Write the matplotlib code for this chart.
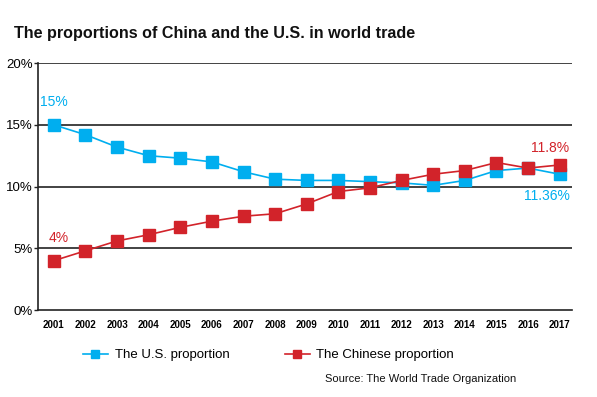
import matplotlib.pyplot as plt
from matplotlib.ticker import FuncFormatter

# Data
years = list(range(2001, 2018))
us_share = [15.0, 14.2, 13.2, 12.5, 12.3, 12.0, 11.2, 10.6, 10.5, 10.5,
            10.4, 10.3, 10.1, 10.5, 11.3, 11.5, 11.0]
china_share = [4.0, 4.8, 5.6, 6.1, 6.7, 7.2, 7.6, 7.8, 8.6, 9.6,
               9.9, 10.5, 11.0, 11.3, 11.95, 11.5, 11.75]

blue = '#00AEEF'
red = '#D2232A'

plt.rcParams['font.family'] = ['Liberation Sans', 'DejaVu Sans']

fig = plt.figure(figsize=(5.97, 3.97), dpi=100)
ax = fig.add_axes([0.0637, 0.219, 0.895, 0.622])

# Grid lines
for v in [5, 10, 15, 20]:
    ax.axhline(v, color='#222222', lw=1.2, zorder=1)

ax.plot(years, us_share, color=blue, marker='s', ms=8, lw=1.2,
        label='The U.S. proportion', zorder=3)
ax.plot(years, china_share, color=red, marker='s', ms=8, lw=1.2,
        label='The Chinese proportion', zorder=4)

ax.set_xlim(2000.5, 2017.4)
ax.set_ylim(0, 20)
ax.set_yticks([0, 5, 10, 15, 20])
ax.yaxis.set_major_formatter(FuncFormatter(lambda v, p: f'{v:.0f}%'))
ax.set_xticks(years)
ax.set_xticklabels([str(y) for y in years], fontsize=7, fontweight='bold')
ax.tick_params(axis='x', length=0, pad=7)
ax.tick_params(axis='y', length=3, width=1, labelsize=9.5, pad=1, color='#222222')

for s in ['top', 'right']:
    ax.spines[s].set_visible(False)
ax.spines['left'].set_color('#222222')
ax.spines['bottom'].set_color('#222222')
ax.spines['left'].set_linewidth(1.2)
ax.spines['bottom'].set_linewidth(1.2)

# Annotations
ax.text(2001, 16.5, '15%', color=blue, fontsize=10, ha='center')
ax.text(2001.15, 5.5, '4%', color=red, fontsize=10, ha='center')
ax.text(2016.7, 12.8, '11.8%', color=red, fontsize=10, ha='center')
ax.text(2016.6, 8.9, '11.36%', color=blue, fontsize=10, ha='center')

fig.text(0.024, 0.905, 'The proportions of China and the U.S. in world trade',
         fontsize=11.6, fontweight='bold', color='#111111')

fig.legend(loc='center left', bbox_to_anchor=(0.13, 0.105), ncol=2, frameon=False,
           fontsize=9.5, handlelength=1.9, handletextpad=0.5, columnspacing=4.2,
           borderaxespad=0, markerscale=0.8)

fig.text(0.545, 0.037, 'Source: The World Trade Organization', fontsize=8,
         color='#111111')

fig.savefig('out.png', dpi=100)
